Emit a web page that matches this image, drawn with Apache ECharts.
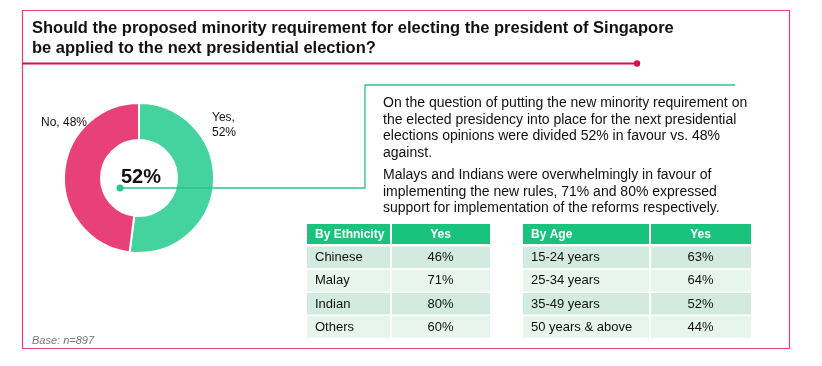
<!DOCTYPE html>
<html>
<head>
<meta charset="utf-8">
<script src="https://cdn.jsdelivr.net/npm/echarts@6/dist/echarts.min.js"></script>
<style>
html,body{margin:0;padding:0;background:#fff;}
#chart{width:822px;height:366px;}
</style>
</head>
<body>
<div id="chart"></div>
<script>
// ---- data ----
var titleLines = ['Should the proposed minority requirement for electing the president of Singapore', 'be applied to the next presidential election?'];
var pieNames = ['Yes', 'No'];
var pieValues = [52, 48];
var centerLabel = '52%';
var para1 = ['On the question of putting the new minority requirement on', 'the elected presidency into place for the next presidential', 'elections opinions were divided 52% in favour vs. 48%', 'against.'];
var para2 = ['Malays and Indians were overwhelmingly in favour of', 'implementing the new rules, 71% and 80% expressed', 'support for implementation of the reforms respectively.'];
var ethHeader = ['By Ethnicity', 'Yes'];
var ethGroups = ['Chinese', 'Malay', 'Indian', 'Others'];
var ethYes = [46, 71, 80, 60];
var ageHeader = ['By Age', 'Yes'];
var ageGroups = ['15-24 years', '25-34 years', '35-49 years', '50 years & above'];
var ageYes = [63, 64, 52, 44];
var baseNote = 'Base: n=897';

// ---- styles ----
var FONT = '"Liberation Sans", Arial, sans-serif';
var PINK = '#E8417A';
var RED = '#D6114F';
var GREEN = '#44D39E';
var TEAL = '#2CC48C';
var HEAD = '#19C27D';
var ROW_DARK = '#D2EADF';
var ROW_LIGHT = '#E8F4EE';

var chart = echarts.init(document.getElementById('chart'), null, {renderer: 'canvas'});

var g = [];
// outer border
g.push({type: 'rect', shape: {x: 22.5, y: 10.5, width: 767, height: 338}, style: {fill: 'none', stroke: PINK, lineWidth: 1.2}, z: 1});
// title
titleLines.forEach(function (t, i) {
  g.push({type: 'text', x: 32, y: 28 + i * 20, style: {text: t, font: 'bold 16.5px ' + FONT, fill: '#111', verticalAlign: 'middle'}, z: 5});
});
// red divider with dot
g.push({type: 'line', shape: {x1: 22, y1: 63.5, x2: 637, y2: 63.5}, style: {stroke: RED, lineWidth: 2}, z: 5});
g.push({type: 'circle', shape: {cx: 637, cy: 63.5, r: 3.2}, style: {fill: RED}, z: 5});
// connector line from donut center to text box
g.push({type: 'polyline', shape: {points: [[120, 188], [365, 188], [365, 85], [735, 85]]}, style: {stroke: TEAL, lineWidth: 1.3, fill: 'none'}, z: 5});
g.push({type: 'circle', shape: {cx: 120, cy: 188, r: 3.5}, style: {fill: TEAL}, z: 6});
// center label
g.push({type: 'text', x: 141, y: 177, style: {text: centerLabel, font: 'bold 20px ' + FONT, fill: '#111', align: 'center', verticalAlign: 'middle'}, z: 7});
// pie slice labels
g.push({type: 'text', x: 212, y: 125, style: {text: pieNames[0] + ',\n' + pieValues[0] + '%', font: '12px ' + FONT, lineHeight: 15, fill: '#111', verticalAlign: 'middle'}, z: 7});
g.push({type: 'text', x: 87, y: 123, style: {text: pieNames[1] + ', ' + pieValues[1] + '%', font: '12px ' + FONT, fill: '#111', align: 'right', verticalAlign: 'middle'}, z: 7});
// paragraphs
para1.forEach(function (t, i) {
  g.push({type: 'text', x: 383, y: 103.5 + i * 16.5, style: {text: t, font: '14px ' + FONT, fill: '#111', verticalAlign: 'middle'}, z: 5});
});
para2.forEach(function (t, i) {
  g.push({type: 'text', x: 383, y: 175.5 + i * 16.5, style: {text: t, font: '14px ' + FONT, fill: '#111', verticalAlign: 'middle'}, z: 5});
});
// tables
function table(x0, xSplit, x1, header, groups, vals) {
  var top = 224, headH = 20, rowTop = 246.5, rowH = 23.2;
  g.push({type: 'rect', shape: {x: x0, y: top, width: xSplit - x0 - 1, height: headH}, style: {fill: HEAD}, z: 3});
  g.push({type: 'rect', shape: {x: xSplit + 1, y: top, width: x1 - xSplit - 1, height: headH}, style: {fill: HEAD}, z: 3});
  g.push({type: 'text', x: x0 + 8, y: top + headH / 2 + 0.5, style: {text: header[0], font: 'bold 12px ' + FONT, fill: '#fff', verticalAlign: 'middle'}, z: 4});
  g.push({type: 'text', x: (xSplit + x1) / 2, y: top + headH / 2 + 0.5, style: {text: header[1], font: 'bold 12px ' + FONT, fill: '#fff', align: 'center', verticalAlign: 'middle'}, z: 4});
  groups.forEach(function (name, i) {
    var y = rowTop + i * rowH;
    var fill = i % 2 === 0 ? ROW_DARK : ROW_LIGHT;
    g.push({type: 'rect', shape: {x: x0, y: y, width: xSplit - x0 - 1, height: rowH - 1.5}, style: {fill: fill}, z: 3});
    g.push({type: 'rect', shape: {x: xSplit + 1, y: y, width: x1 - xSplit - 1, height: rowH - 1.5}, style: {fill: fill}, z: 3});
    g.push({type: 'text', x: x0 + 8, y: y + rowH / 2 - 0.5, style: {text: name, font: '13px ' + FONT, fill: '#111', verticalAlign: 'middle'}, z: 4});
    g.push({type: 'text', x: (xSplit + x1) / 2, y: y + rowH / 2 - 0.5, style: {text: vals[i] + '%', font: '13px ' + FONT, fill: '#111', align: 'center', verticalAlign: 'middle'}, z: 4});
  });
}
table(307, 391, 490, ethHeader, ethGroups, ethYes);
table(523, 650, 751, ageHeader, ageGroups, ageYes);
// base note
g.push({type: 'text', x: 32, y: 341, style: {text: baseNote, font: 'italic 11px ' + FONT, fill: '#777', verticalAlign: 'middle'}, z: 5});

var pieData = pieNames.map(function (n, i) { return {name: n, value: pieValues[i]}; });

chart.setOption({
  animation: false,
  backgroundColor: '#fff',
  series: [{
    type: 'pie',
    center: [139, 178],
    radius: [38, 75],
    startAngle: 90,
    clockwise: true,
    itemStyle: {borderColor: '#fff', borderWidth: 2},
    color: [GREEN, PINK],
    label: {show: false},
    labelLine: {show: false},
    emphasis: {disabled: true},
    data: pieData
  }],
  graphic: g
});
</script>
</body>
</html>
